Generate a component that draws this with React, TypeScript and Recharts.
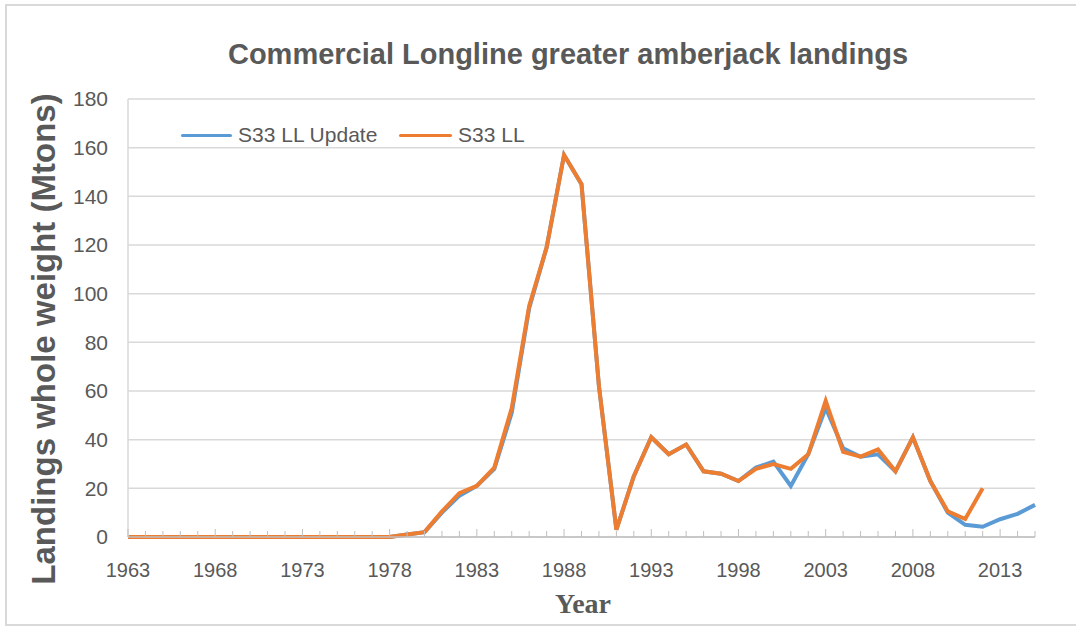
import { LineChart, Line, XAxis, YAxis, CartesianGrid } from 'recharts';

const years = [
  1963, 1964, 1965, 1966, 1967, 1968, 1969, 1970, 1971, 1972, 1973, 1974, 1975, 1976, 1977,
  1978, 1979, 1980, 1981, 1982, 1983, 1984, 1985, 1986, 1987, 1988, 1989, 1990, 1991, 1992,
  1993, 1994, 1995, 1996, 1997, 1998, 1999, 2000, 2001, 2002, 2003, 2004, 2005, 2006, 2007,
  2008, 2009, 2010, 2011, 2012, 2013, 2014, 2015,
];

// S33 LL Update (blue)
const llUpdate = [
  0, 0, 0, 0, 0, 0, 0, 0, 0, 0, 0, 0, 0, 0, 0,
  0, 1, 2, 10, 17, 21, 28, 51, 94, 119, 157, 145, 62, 3, 25,
  41, 34, 38, 27, 26, 23, 28.5, 31, 21, 34, 53, 36.5, 33, 34, 27,
  41, 23, 10, 5, 4.2, 7.3, 9.5, 13.2,
];

// S33 LL (orange), ends in 2012
const ll = [
  0, 0, 0, 0, 0, 0, 0, 0, 0, 0, 0, 0, 0, 0, 0,
  0, 1, 2, 10.5, 18, 21, 28.5, 53, 95, 119, 157, 145, 62, 3, 25,
  41, 34, 38, 27, 26, 23, 28, 30, 28, 34, 56, 35, 33, 36, 27,
  41, 23, 10.5, 7.4, 20, null, null, null,
];

const labeledYears = [1963, 1968, 1973, 1978, 1983, 1988, 1993, 1998, 2003, 2008, 2013];
const yTicks = [0, 20, 40, 60, 80, 100, 120, 140, 160, 180];

const data = years.map((y, i) => ({ year: y, update: llUpdate[i], ll: ll[i] }));

const textGray = '#595959';
const sans = 'Liberation Sans, Arial, sans-serif';

// year tick: small upward tick mark each year, label every 5 years
const YearTick = (props: any) => {
  const { x, y, payload } = props;
  const major = labeledYears.includes(payload.value);
  return (
    <g>
      <line x1={x} x2={x} y1={y} y2={y - (major ? 8 : 6)} stroke="#bfbfbf" strokeWidth={1} />
      {major && (
        <text x={x} y={y + 40} textAnchor="middle" fill={textGray} fontSize={20} fontFamily={sans}>
          {payload.value}
        </text>
      )}
    </g>
  );
};

export default function App() {
  return (
    <div style={{ position: 'absolute', left: 0, top: 0, width: 1076, height: 626, background: '#fff', overflow: 'hidden' }}>
      {/* frame (no right edge visible) */}
      <div style={{ position: 'absolute', left: 5, top: 4, width: 1071, height: 2, background: '#d9d9d9' }} />
      <div style={{ position: 'absolute', left: 5, top: 4, width: 2, height: 621, background: '#d9d9d9' }} />
      <div style={{ position: 'absolute', left: 5, top: 624, width: 1071, height: 2, background: '#d9d9d9' }} />

      {/* Title */}
      <div
        style={{
          position: 'absolute', left: 30, top: 36, width: 1076, textAlign: 'center',
          fontFamily: sans, fontWeight: 'bold', fontSize: 29, lineHeight: '36px', color: textGray,
        }}
      >
        Commercial Longline greater amberjack landings
      </div>

      <div style={{ position: 'absolute', left: 0, top: 0 }}>
        <LineChart width={1076} height={626} data={data} margin={{ top: 99, right: 41, left: 0, bottom: 59 }}>
          <CartesianGrid vertical={false} stroke="#d9d9d9" strokeWidth={1.5} />
          <XAxis
            dataKey="year"
            interval={0}
            height={30}
            tick={<YearTick />}
            tickSize={0}
            tickMargin={0}
            tickLine={false}
            axisLine={{ stroke: '#bfbfbf', strokeWidth: 1.5 }}
          />
          <YAxis
            domain={[0, 180]}
            ticks={yTicks}
            width={128}
            axisLine={{ stroke: '#d9d9d9', strokeWidth: 1.5 }}
            tickLine={false}
            tickSize={6}
            tickMargin={14}
            tick={{ fill: textGray, fontSize: 21, fontFamily: sans }}
          />
          <Line
            type="linear"
            dataKey="update"
            name="S33 LL Update"
            stroke="#5B9BD5"
            strokeWidth={4}
            dot={false}
            isAnimationActive={false}
          />
          <Line
            type="linear"
            dataKey="ll"
            name="S33 LL"
            stroke="#ED7D31"
            strokeWidth={4}
            dot={false}
            isAnimationActive={false}
          />
        </LineChart>
      </div>

      {/* Legend */}
      <div style={{ position: 'absolute', left: 181, top: 121, height: 30, fontFamily: sans, fontSize: 21, color: textGray }}>
        <div style={{ position: 'absolute', left: 0, top: 13, width: 51, height: 3, background: '#5B9BD5', borderRadius: 2 }} />
        <span style={{ position: 'absolute', left: 57, top: 2, whiteSpace: 'nowrap' }}>S33 LL Update</span>
        <div style={{ position: 'absolute', left: 218, top: 13, width: 53, height: 3, background: '#ED7D31', borderRadius: 2 }} />
        <span style={{ position: 'absolute', left: 277, top: 2, whiteSpace: 'nowrap' }}>S33 LL</span>
      </div>

      {/* Y axis title */}
      <div
        style={{
          position: 'absolute', left: 44, top: 339, transform: 'translate(-50%, -50%) rotate(-90deg)',
          fontFamily: sans, fontWeight: 'bold', fontSize: 33, lineHeight: '36px', color: textGray, whiteSpace: 'nowrap',
        }}
      >
        Landings whole weight (Mtons)
      </div>

      {/* X axis title */}
      <div
        style={{
          position: 'absolute', left: 583, top: 604, transform: 'translate(-50%, -50%)',
          fontFamily: 'Liberation Serif, Times New Roman, serif', fontWeight: 'bold', fontSize: 28,
          lineHeight: '32px', color: textGray, whiteSpace: 'nowrap',
        }}
      >
        Year
      </div>
    </div>
  );
}
